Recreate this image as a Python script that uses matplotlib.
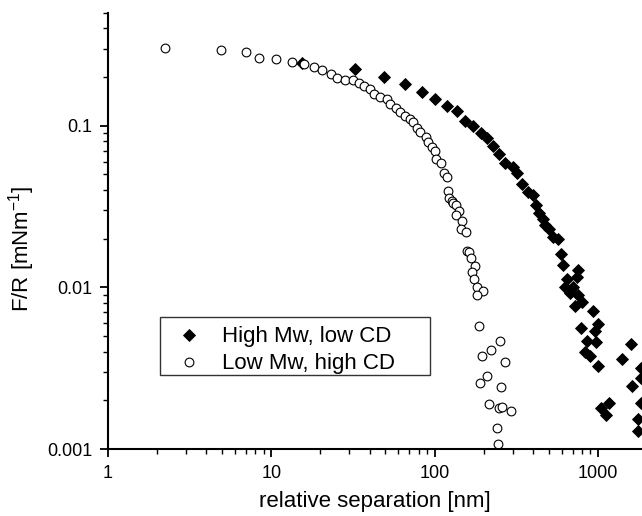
import matplotlib
matplotlib.use("Agg")
import matplotlib.pyplot as plt
from matplotlib.patches import Rectangle
from matplotlib.ticker import LogLocator, NullFormatter, FixedLocator, FixedFormatter

plt.rcParams['font.family'] = ['Liberation Sans', 'DejaVu Sans']
plt.rcParams['mathtext.fontset'] = 'custom'
plt.rcParams['mathtext.rm'] = 'Liberation Sans'

# High Mw, low CD (filled diamonds)
high_x = [15.4, 32.6, 49.0, 66.2, 83.4, 100.6, 118.6, 137.7, 153.5, 172.6,
          191.5, 210.3, 228.7, 249, 270, 303, 318, 341, 375, 402,
          418, 438, 458, 474, 502, 529, 566, 594, 615, 750,
          651, 741, 629, 707, 675, 759, 794, 724, 929, 785,
          1005, 960, 854, 967, 834, 898, 995, 1595, 1399, 1830,
          1830, 1610, 1175, 1047, 1121, 1830, 1767, 1755]
high_y = [0.243, 0.223, 0.199, 0.181, 0.162, 0.146, 0.132, 0.124, 0.107, 0.0995,
          0.0904, 0.0834, 0.0751, 0.0667, 0.0585, 0.0557, 0.0511, 0.0438, 0.0390, 0.0372,
          0.0321, 0.0290, 0.0264, 0.0243, 0.0228, 0.0206, 0.0199, 0.0161, 0.0137, 0.0128,
          0.0113, 0.0116, 0.0100, 0.0100, 0.00929, 0.00896, 0.00815, 0.00771, 0.00714, 0.00558,
          0.00596, 0.00537, 0.00466, 0.00456, 0.00401, 0.00376, 0.00326, 0.00449, 0.00360, 0.00316,
          0.00274, 0.00245, 0.00192, 0.00179, 0.00162, 0.00192, 0.00153, 0.00129]

# Low Mw, high CD (open circles)
low_x = [2.23, 4.92, 6.97, 8.37, 10.7, 13.4, 15.9, 18.3, 20.5, 23.2,
         25.4, 28.3, 31.5, 34.6, 36.7, 40.4, 42.3, 46.6, 51.3, 53.3,
         58.0, 61.1, 66.2, 70.7, 74.1, 78.0, 81.5, 88.6, 91.5, 95.9,
         100.5, 102, 109, 114, 119, 120, 123, 127, 130, 135,
         142, 136, 147, 145, 155, 157, 163, 167, 177, 169,
         174, 182, 199, 183, 187, 251, 221, 195, 270, 210,
         190, 254, 216, 247, 257, 292, 240, 243]
low_y = [0.301, 0.293, 0.284, 0.264, 0.257, 0.247, 0.240, 0.231, 0.220, 0.209,
         0.198, 0.193, 0.191, 0.183, 0.175, 0.168, 0.158, 0.151, 0.147, 0.136,
         0.128, 0.121, 0.114, 0.110, 0.106, 0.0969, 0.0917, 0.0853, 0.0795, 0.0734,
         0.0699, 0.0619, 0.0585, 0.0511, 0.0483, 0.0397, 0.0355, 0.0342, 0.0331, 0.0321,
         0.0298, 0.0280, 0.0258, 0.0228, 0.0221, 0.0168, 0.0166, 0.0151, 0.0135, 0.0124,
         0.0113, 0.00998, 0.00949, 0.00903, 0.00576, 0.00466, 0.00410, 0.00376, 0.00344, 0.00283,
         0.00255, 0.00243, 0.00190, 0.00180, 0.00183, 0.00172, 0.00134, 0.00108]

x_ticks = [1, 10, 100, 1000]
x_tick_labels = ["1", "10", "100", "1000"]
y_ticks = [0.001, 0.01, 0.1]
y_tick_labels = ["0.001", "0.01", "0.1"]

fig = plt.figure(figsize=(6.42, 5.16), dpi=100)
ax = fig.add_axes([0.1682, 0.1298, 0.8318, 0.8456])

ax.plot(high_x, high_y, ls="none", marker="D", ms=5.8, mfc="black", mec="black",
        mew=0.6, label="High Mw, low CD")
ax.plot(low_x, low_y, ls="none", marker="o", ms=6.3, mfc="white", mec="black",
        mew=0.8, label="Low Mw, high CD")

ax.set_xscale("log")
ax.set_yscale("log")
ax.set_xlim(1, 1862)
ax.set_ylim(0.001, 0.5)

ax.xaxis.set_major_locator(FixedLocator(x_ticks))
ax.xaxis.set_major_formatter(FixedFormatter(x_tick_labels))
ax.yaxis.set_major_locator(FixedLocator(y_ticks))
ax.yaxis.set_major_formatter(FixedFormatter(y_tick_labels))
ax.xaxis.set_minor_locator(LogLocator(base=10, subs=range(2, 10), numticks=20))
ax.yaxis.set_minor_locator(LogLocator(base=10, subs=range(2, 10), numticks=20))
ax.xaxis.set_minor_formatter(NullFormatter())
ax.yaxis.set_minor_formatter(NullFormatter())

for s in ["top", "right"]:
    ax.spines[s].set_visible(False)
for s in ["left", "bottom"]:
    ax.spines[s].set_linewidth(1.5)

ax.tick_params(which="major", direction="out", length=6, width=1.3, labelsize=13, pad=5.5)
ax.tick_params(which="minor", direction="out", length=3.5, width=1.0)

ax.set_xlabel("relative separation [nm]", fontsize=16)
ax.set_ylabel(r"F/R [mNm$^{\mathregular{-1}}$]", fontsize=16)
ax.xaxis.set_label_coords(0.5, -0.097)
ax.yaxis.set_label_coords(-0.133, 0.46)

# legend frame (Origin style, wide right margin)
box = Rectangle((0.0974, 0.169), 0.505, 0.134, transform=ax.transAxes,
                facecolor="white", edgecolor="#333333", lw=1.0, zorder=4, clip_on=False)
ax.add_patch(box)
leg = ax.legend(loc="center left", bbox_to_anchor=(0.131, 0.226), borderaxespad=0,
                frameon=False, fontsize=16, handlelength=1.0, handletextpad=1.0,
                borderpad=0, labelspacing=0.27)
leg.set_zorder(5)

fig.savefig("out.png", dpi=100)
